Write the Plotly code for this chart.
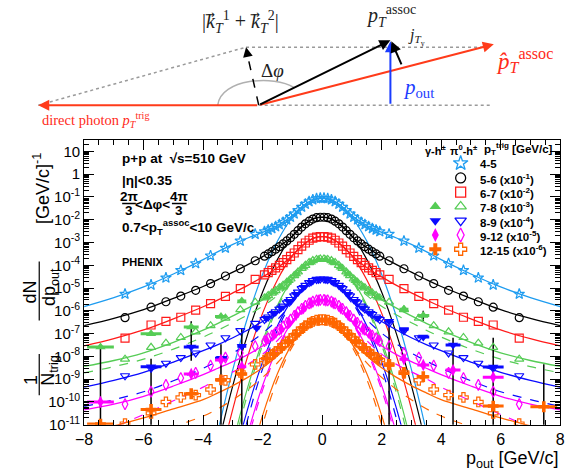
import plotly.graph_objects as go

# ---------------- data (log10 values) ----------------
# open (pi0-h) points: dense centre bins and tail bins (positive side, mirrored)
G = [0.0625, 0.1875, 0.3125, 0.4375, 0.5625, 0.6875, 0.8125, 0.9375,
     1.0625, 1.1875, 1.3125, 1.4375, 1.5625, 1.6875, 1.8125, 1.9375]
T = [2.25, 2.75, 3.25, 3.75, 4.25, 4.75, 5.25, 5.75, 6.625]

open_45 = [-1.05, -1.07, -1.12, -1.20, -1.31, -1.44, -1.59, -1.74, -1.88, -2.00, -2.11, -2.21, -2.30, -2.38, -2.45, -2.52,
           -2.63, -2.93, -3.24, -3.58, -3.92, -4.22, -4.55, -4.86, -5.26]
open_56 = [-1.89, -1.91, -1.97, -2.06, -2.18, -2.32, -2.48, -2.64, -2.79, -2.93, -3.06, -3.18, -3.29, -3.40, -3.50, -3.60,
           -3.80, -4.15, -4.47, -4.80, -5.10, -5.35, -5.60, -5.84, -6.30]
open_67 = [-2.74, -2.76, -2.81, -2.90, -3.02, -3.16, -3.31, -3.46, -3.61, -3.75, -3.88, -4.00, -4.11, -4.22, -4.32, -4.42,
           -4.62, -5.02, -5.36, -5.68, -5.97, -6.28, -6.46, -6.62, -7.20]
open_78 = [-3.72, -3.74, -3.79, -3.88, -4.00, -4.14, -4.29, -4.45, -4.60, -4.74, -4.87, -4.99, -5.11, -5.22, -5.33, -5.43,
           -5.62, -5.95, -6.32, -6.65, -6.92, -7.17, -7.42, -7.60, -8.12]
open_89 = [-4.60, -4.62, -4.67, -4.76, -4.88, -5.02, -5.18, -5.34, -5.50, -5.65, -5.79, -5.92, -6.04, -6.16, -6.27, -6.38,
           -6.55, -6.87, -7.18, -7.50, -7.85, -8.05, -8.30, -8.52, -8.85]
open_912 = [-5.52, -5.54, -5.59, -5.67, -5.78, -5.91, -6.06, -6.22, -6.38, -6.53, -6.68, -6.82, -6.96, -7.09, -7.21, -7.33,
            -7.55, -7.85, -8.05, -8.40, -8.72, -8.95, -9.25, -9.55, -10.10]
open_1215 = [-6.39, -6.41, -6.46, -6.54, -6.65, -6.78, -6.92, -7.07, -7.22, -7.37, -7.51, -7.65, -7.79, -7.92, -8.04, -8.16,
             -8.35, -8.70, -9.05, -9.45, -9.70, -9.80, -10.00, -10.50, -10.95]

# filled (gamma-h) points: centre bins (mirrored) and tail bins (signed x)
GG = [0.125, 0.375, 0.625, 0.875, 1.125, 1.375, 1.625, 1.875]
fill_c_78 = [-3.75, -3.86, -4.08, -4.38, -4.68, -4.95, -5.18, -5.40]
fill_c_89 = [-4.63, -4.74, -4.96, -5.27, -5.58, -5.86, -6.10, -6.32]
fill_c_912 = [-5.55, -5.66, -5.88, -6.18, -6.50, -6.80, -7.05, -7.28]
fill_c_1215 = [-6.42, -6.52, -6.74, -7.03, -7.33, -7.62, -7.88, -8.10]

TFX = [-7.45, -5.75, -4.4, -3.4, -2.7, -2.2, 2.25, 2.75, 3.4, 4.4, 5.75, 7.45]
TFXERR = [0.45, 0.35, 0.25, 0.2, 0.15, 0.1, 0.1, 0.15, 0.2, 0.25, 0.35, 0.45]
fill_t_78 = [-7.59, -7.01, -6.71, -6.25, -5.57, None, None, -5.93, -6.20, None, None, None]
fill_t_89 = [None, -8.45, -7.59, -8.08, -7.55, -6.75, -6.46, -6.82, -7.15, -7.50, -8.46, None]
fill_t_912 = [-10.0, None, -8.77, -8.16, -8.45, None, None, -8.12, -8.38, -8.60, -8.91, None]
fill_t_1215 = [-10.97, -10.33, -9.64, -9.03, -8.77, None, -8.38, -8.74, -8.89, None, -10.18, -10.21]

# black vertical uncertainty bars
VBAR_X = [-7.45, -5.75, -4.4, -3.4, -2.7, 2.25, 3.4, 4.4, 5.75, 7.45]
VBAR_TOP = [-7.6, -8.1, -6.46, -7.47, -6.75, -6.68, -6.0, -7.18, -7.18, -8.34]
VBAR_BOT = [-12, -12, -8.19, -12, -12, -12, -6.45, -12, -12, -12]

# full fits (positive side, mirrored)
FX = [0, 0.25, 0.5, 0.75, 1, 1.25, 1.5, 1.75, 2, 2.5, 3, 3.5, 4, 5, 6, 7, 8]
fit_45 = [-1.05, -1.09, -1.26, -1.51, -1.81, -2.05, -2.25, -2.41, -2.55, -2.80, -3.08, -3.40, -3.75, -4.38, -4.95, -5.42, -5.81]
fit_56 = [-1.89, -1.93, -2.12, -2.40, -2.72, -2.99, -3.22, -3.42, -3.62, -3.97, -4.30, -4.63, -4.93, -5.45, -5.95, -6.33, -6.65]
fit_67 = [-2.74, -2.78, -2.97, -3.25, -3.57, -3.86, -4.10, -4.32, -4.51, -4.88, -5.21, -5.52, -5.82, -6.35, -6.84, -7.22, -7.54]
fit_78 = [-3.72, -3.76, -3.95, -4.24, -4.57, -4.87, -5.12, -5.33, -5.52, -5.88, -6.22, -6.55, -6.85, -7.38, -7.84, -8.18, -8.44]
fit_89 = [-4.60, -4.64, -4.84, -5.14, -5.48, -5.79, -6.05, -6.27, -6.47, -6.84, -7.18, -7.48, -7.75, -8.25, -8.70, -9.05, -9.35]
fit_912 = [-5.52, -5.56, -5.76, -6.07, -6.43, -6.77, -7.06, -7.32, -7.54, -7.92, -8.23, -8.52, -8.80, -9.30, -9.75, -10.10, -10.35]
fit_1215 = [-6.39, -6.43, -6.62, -6.93, -7.30, -7.65, -7.97, -8.25, -8.50, -8.92, -9.28, -9.60, -9.90, -10.30, -10.70, -11.05, -11.40]
dfit_78 = [-3.74, -3.79, -4.00, -4.32, -4.68, -5.02, -5.32, -5.58, -5.80, -6.18, -6.52, -6.85, -7.15, -7.68, -8.12, -8.45, -8.72]
dfit_89 = [-4.62, -4.67, -4.90, -5.25, -5.65, -6.03, -6.38, -6.70, -6.98, -7.45, -7.85, -8.20, -8.52, -9.07, -9.55, -9.90, -10.20]
dfit_912 = [-5.55, -5.60, -5.82, -6.16, -6.56, -6.95, -7.30, -7.62, -7.90, -8.35, -8.68, -8.98, -9.35, -9.95, -10.55, -11.10, -11.60]
dfit_1215 = [-6.42, -6.47, -6.70, -7.05, -7.48, -7.90, -8.28, -8.62, -8.92, -9.45, -9.90, -10.30, -10.62, -11.10, -11.60, -12.0, -12.4]

# gaussian components (positive side, mirrored)
GX = [0, 0.5, 1, 1.5, 2, 2.5, 3, 3.5, 4]
gau_45 = [-1.05, -1.26, -1.89, -2.93, -4.39, -6.27, -8.57, -11.29, -14.4]
gau_56 = [-1.89, -2.10, -2.71, -3.74, -5.17, -7.02, -9.27, -11.94, -15.0]
gau_67 = [-2.74, -2.95, -3.58, -4.63, -6.10, -7.99, -10.30, -13.03, -16.2]
gau_78 = [-3.72, -3.95, -4.62, -5.75, -7.32, -9.35, -11.82, -14.7, -18.1]
gau_89 = [-4.60, -4.83, -5.51, -6.65, -8.24, -10.29, -12.79, -15.7, -19.2]
gau_912 = [-5.52, -5.76, -6.46, -7.64, -9.28, -11.40, -13.98, -17.0, -20.6]
gau_1215 = [-6.39, -6.65, -7.44, -8.75, -10.59, -12.95, -15.8, -19.2, -23.2]
dgau_78 = [-3.74, -3.98, -4.68, -5.86, -7.50, -9.62, -12.2, -15.3, -18.8]
dgau_89 = [-4.62, -4.87, -5.60, -6.83, -8.54, -10.75, -13.44, -16.6, -20.3]
dgau_912 = [-5.55, -5.80, -6.53, -7.76, -9.47, -11.68, -14.4, -17.6, -21.2]
dgau_1215 = [-6.42, -6.71, -7.57, -9.00, -11.00, -13.60, -16.7, -20.4, -24.7]

LABELS = ["4-5", "5-6 (x10<sup>-1</sup>)", "6-7 (x10<sup>-2</sup>)", "7-8 (x10<sup>-3</sup>)",
          "8-9 (x10<sup>-4</sup>)", "9-12 (x10<sup>-5</sup>)", "12-15 (x10<sup>-6</sup>)"]
COLORS = ["#1e9cf0", "#000000", "#ff1a1a", "#55cc55", "#0a0aff", "#ff00ff", "#ff6600"]
OPEN_SYM = ["star-open", "circle-open", "square-open", "triangle-up-open",
            "triangle-down-open", "diamond-tall-open", "cross-open"]
FILL_SYM = [None, None, None, "triangle-up", "triangle-down", "diamond-tall", "cross"]

OPEN = [open_45, open_56, open_67, open_78, open_89, open_912, open_1215]
FITS = [fit_45, fit_56, fit_67, fit_78, fit_89, fit_912, fit_1215]
GAUS = [gau_45, gau_56, gau_67, gau_78, gau_89, gau_912, gau_1215]
DFITS = [None, None, None, dfit_78, dfit_89, dfit_912, dfit_1215]
DGAUS = [None, None, None, dgau_78, dgau_89, dgau_912, dgau_1215]
FILL_C = [None, None, None, fill_c_78, fill_c_89, fill_c_912, fill_c_1215]
FILL_T = [None, None, None, fill_t_78, fill_t_89, fill_t_912, fill_t_1215]

# ---------------- helpers ----------------
def p10(v):
    return [None if a is None else 10.0 ** a for a in v]

def mirror_pts(xs, vs):
    return [-a for a in reversed(xs)] + list(xs), list(reversed(vs)) + list(vs)

def mirror_curve(xs, vs):
    return [-a for a in reversed(xs[1:])] + list(xs), list(reversed(vs[1:])) + list(vs)

SANS = "Liberation Sans, Arial, sans-serif"
SERIF = "Liberation Serif, DejaVu Serif, serif"

fig = go.Figure()

# curves
for i in range(7):
    c = COLORS[i]
    x, y = mirror_curve(GX, GAUS[i])
    fig.add_trace(go.Scatter(x=x, y=p10(y), mode="lines", line=dict(color=c, width=1.2, shape="spline"),
                             showlegend=False, hoverinfo="skip"))
    x, y = mirror_curve(FX, FITS[i])
    fig.add_trace(go.Scatter(x=x, y=p10(y), mode="lines", line=dict(color=c, width=1.3, shape="spline"),
                             showlegend=False, hoverinfo="skip"))
    if DFITS[i] is not None:
        x, y = mirror_curve(GX, DGAUS[i])
        fig.add_trace(go.Scatter(x=x, y=p10(y), mode="lines",
                                 line=dict(color=c, width=1.2, dash="dash", shape="spline"),
                                 showlegend=False, hoverinfo="skip"))
        x, y = mirror_curve(FX, DFITS[i])
        fig.add_trace(go.Scatter(x=x, y=p10(y), mode="lines",
                                 line=dict(color=c, width=1.2, dash="dash", shape="spline"),
                                 showlegend=False, hoverinfo="skip"))

# black vertical bars
vx, vy = [], []
for x0, t0, b0 in zip(VBAR_X, VBAR_TOP, VBAR_BOT):
    vx += [x0, x0, None]
    vy += [10.0 ** t0, 10.0 ** b0, None]
fig.add_trace(go.Scatter(x=vx, y=vy, mode="lines", line=dict(color="black", width=1.5),
                         showlegend=False, hoverinfo="skip"))

# open points
xs_all = G + T
for i in range(7):
    x, y = mirror_pts(xs_all, OPEN[i])
    fig.add_trace(go.Scatter(x=x, y=p10(y), mode="markers",
                             marker=dict(symbol=OPEN_SYM[i], size=8, color=COLORS[i],
                                         line=dict(color=COLORS[i], width=1.2)),
                             showlegend=False))

# filled points
for i in range(3, 7):
    x, y = mirror_pts(GG, FILL_C[i])
    fig.add_trace(go.Scatter(x=x, y=p10(y), mode="markers",
                             marker=dict(symbol=FILL_SYM[i], size=9, color=COLORS[i]),
                             showlegend=False))
    fig.add_trace(go.Scatter(x=TFX, y=p10(FILL_T[i]), mode="markers",
                             marker=dict(symbol=FILL_SYM[i], size=9, color=COLORS[i]),
                             error_x=dict(type="data", array=TFXERR, color=COLORS[i], thickness=3, width=0),
                             showlegend=False))

# ---------------- legend (overlay axes in page pixels) ----------------
LEG_Y = [166, 181, 195.5, 210, 224.5, 239, 253.5]
LEG_X_FILL, LEG_X_OPEN, LEG_X_TEXT = 437, 463, 481
for i in range(7):
    fig.add_trace(go.Scatter(x=[LEG_X_OPEN], y=[LEG_Y[i]], mode="markers", xaxis="x3", yaxis="y3",
                             marker=dict(symbol=OPEN_SYM[i], size=11 if i == 0 else 10, color=COLORS[i],
                                         line=dict(color=COLORS[i], width=1.3)),
                             showlegend=False, hoverinfo="skip"))
    if FILL_SYM[i] is not None:
        fig.add_trace(go.Scatter(x=[LEG_X_FILL], y=[LEG_Y[i]], mode="markers", xaxis="x3", yaxis="y3",
                                 marker=dict(symbol=FILL_SYM[i], size=10, color=COLORS[i]),
                                 showlegend=False, hoverinfo="skip"))

ann = []
for i in range(7):
    ann.append(dict(x=LEG_X_TEXT, y=LEG_Y[i] + 1, xref="x3", yref="y3", text="<b>" + LABELS[i] + "</b>",
                    showarrow=False, xanchor="left", yanchor="middle",
                    font=dict(family=SANS, size=11.5, color="black")))
ann += [
    dict(x=438, y=153, xref="x3", yref="y3", text="<b>γ-h<sup>±</sup></b>", showarrow=False,
         font=dict(family=SANS, size=11, color="black")),
    dict(x=466, y=153, xref="x3", yref="y3", text="<b>π<sup>0</sup>-h<sup>±</sup></b>", showarrow=False,
         font=dict(family=SANS, size=11, color="black")),
    dict(x=485, y=152, xref="x3", yref="y3", text="<b>p<sub>T</sub><sup>trig</sup> [GeV/c]</b>",
         showarrow=False, xanchor="left", font=dict(family=SANS, size=11.5, color="black")),
]

# in-plot texts
ann += [
    dict(x=114, y=161, xref="x3", yref="y3", text="<b>p+p at  √s=510 GeV</b>", showarrow=False,
         xanchor="left", font=dict(family=SANS, size=13.5, color="black")),
    dict(x=114, y=184, xref="x3", yref="y3", text="<b>|η|<0.35</b>", showarrow=False,
         xanchor="left", font=dict(family=SANS, size=13.5, color="black")),
    dict(x=123, y=200, xref="x3", yref="y3", text="<b>2π</b>", showarrow=False,
         font=dict(family=SANS, size=13.5, color="black")),
    dict(x=123, y=214, xref="x3", yref="y3", text="<b>3</b>", showarrow=False,
         font=dict(family=SANS, size=13.5, color="black")),
    dict(x=147, y=208, xref="x3", yref="y3", text="<b><Δφ<</b>", showarrow=False,
         font=dict(family=SANS, size=13.5, color="black")),
    dict(x=174, y=200, xref="x3", yref="y3", text="<b>4π</b>", showarrow=False,
         font=dict(family=SANS, size=13.5, color="black")),
    dict(x=174, y=214, xref="x3", yref="y3", text="<b>3</b>", showarrow=False,
         font=dict(family=SANS, size=13.5, color="black")),
    dict(x=114, y=231, xref="x3", yref="y3", text="<b>0.7<p<sub>T</sub><sup>assoc</sup><10 GeV/c</b>",
         showarrow=False, xanchor="left", font=dict(family=SANS, size=13.5, color="black")),
    dict(x=114, y=266, xref="x3", yref="y3", text="<b>PHENIX</b>", showarrow=False,
         xanchor="left", font=dict(family=SANS, size=11, color="black")),
]

# axis titles
ann += [
    dict(x=566, y=467, xref="x3", yref="y3", text="p<sub>out</sub> [GeV/c]", showarrow=False,
         xanchor="right", font=dict(family=SANS, size=18, color="black")),
    dict(x=22, y=386, xref="x3", yref="y3", text="1", showarrow=False, textangle=-90,
         font=dict(family=SANS, size=18, color="black")),
    dict(x=42, y=376, xref="x3", yref="y3", text="N<sub>trig</sub>", showarrow=False, textangle=-90,
         font=dict(family=SANS, size=18, color="black")),
    dict(x=22, y=297, xref="x3", yref="y3", text="dN", showarrow=False, textangle=-90,
         font=dict(family=SANS, size=18, color="black")),
    dict(x=42, y=292, xref="x3", yref="y3", text="dp<sub>out</sub>", showarrow=False, textangle=-90,
         font=dict(family=SANS, size=18, color="black")),
    dict(x=34, y=192, xref="x3", yref="y3", text="[GeV/c]<sup>-1</sup>", showarrow=False, textangle=-90,
         font=dict(family=SANS, size=18, color="black")),
]

shapes = [
    dict(type="line", xref="x3", yref="y3", x0=116, x1=130, y0=207, y1=207, line=dict(color="black", width=1.5)),
    dict(type="line", xref="x3", yref="y3", x0=167, x1=182, y0=207, y1=207, line=dict(color="black", width=1.5)),
    dict(type="line", xref="x3", yref="y3", x0=31, x1=31, y0=360, y1=402, line=dict(color="black", width=1.2)),
    dict(type="line", xref="x3", yref="y3", x0=31, x1=31, y0=266, y1=326, line=dict(color="black", width=1.2)),
]

# ---------------- kinematics diagram (page pixel coordinates) ----------------
ORIGIN = (256, 107)
TRIG_TIP = (30, 107)
HAT_TIP = (497, 45)
ASSOC_TIP = (391, 41)
POUT_BASE = (391, 107)
POUT_TIP = (391, 42)
JT_BASE = (403, 67)
KT_TIP = (243, 48)
DOT_RIGHT = 493

gray = "#9a9a9a"
shapes += [
    dict(type="line", xref="x2", yref="y2", x0=TRIG_TIP[0], y0=TRIG_TIP[1], x1=KT_TIP[0], y1=KT_TIP[1],
         line=dict(color=gray, width=1.5, dash="dot")),
    dict(type="line", xref="x2", yref="y2", x0=KT_TIP[0], y0=KT_TIP[1], x1=DOT_RIGHT, y1=KT_TIP[1],
         line=dict(color=gray, width=1.5, dash="dot")),
    dict(type="line", xref="x2", yref="y2", x0=ORIGIN[0], y0=ORIGIN[1], x1=DOT_RIGHT, y1=ORIGIN[1],
         line=dict(color=gray, width=1.5, dash="dot")),
    dict(type="path", xref="x2", yref="y2", path="M 214 107 C 217 80, 272 76, 292 89",
         line=dict(color="#b0b0b0", width=1.5)),
    dict(type="line", xref="x2", yref="y2", x0=ORIGIN[0], y0=ORIGIN[1], x1=KT_TIP[0] + 1, y1=KT_TIP[1] + 6,
         line=dict(color="black", width=1.5, dash="dash")),
]

def arrow(tail, head, color, width=2, size=1.0):
    return dict(x=head[0], y=head[1], ax=tail[0], ay=tail[1], xref="x2", yref="y2", axref="x2", ayref="y2",
                text="", showarrow=True, arrowhead=2, arrowsize=size, arrowwidth=width, arrowcolor=color,
                standoff=0)

ann += [
    arrow(ORIGIN, TRIG_TIP, "#ff3b1a", 2, 1.1),
    arrow(ORIGIN, HAT_TIP, "#ff3b1a", 2, 1.1),
    arrow(ORIGIN, ASSOC_TIP, "black", 2, 1.1),
    arrow(POUT_BASE, POUT_TIP, "#1a3cff", 2, 1.1),
    arrow(JT_BASE, (ASSOC_TIP[0] + 1, ASSOC_TIP[1] + 1), "black", 2, 1.1),
    arrow((KT_TIP[0] + 2, KT_TIP[1] + 10), KT_TIP, "black", 1.5, 1.3),
    dict(x=237, y=22, xref="x2", yref="y2", showarrow=False,
         text="|<i>k</i>\u20d7<sub><i>T</i></sub><sup>1</sup> + <i>k</i>\u20d7<sub><i>T</i></sub><sup>2</sup>|",
         font=dict(family=SERIF, size=20, color="#222")),
    dict(x=392, y=16, xref="x2", yref="y2", showarrow=False,
         text="<i>p</i><sub><i>T</i></sub><sup>assoc</sup>", font=dict(family=SERIF, size=20, color="#222")),
    dict(x=418, y=38, xref="x2", yref="y2", showarrow=False,
         text="<i>j</i><sub><i>T</i><sub>y</sub></sub>", font=dict(family=SERIF, size=16, color="#222")),
    dict(x=270, y=72, xref="x2", yref="y2", showarrow=False,
         text="Δ<i>φ</i>", font=dict(family=SERIF, size=19, color="#222")),
    dict(x=420, y=90, xref="x2", yref="y2", showarrow=False,
         text="<i>p</i><sub>out</sub>", font=dict(family=SERIF, size=21, color="#1a3cff")),
    dict(x=528, y=62, xref="x2", yref="y2", showarrow=False,
         text="<i>p\u0302</i><sub><i>T</i></sub><sup>assoc</sup>", font=dict(family=SERIF, size=23, color="#ff2a1a")),
    dict(x=32, y=122, xref="x2", yref="y2", showarrow=False, xanchor="left",
         text="direct photon <i>p</i><sub><i>T</i></sub><sup>trig</sup>",
         font=dict(family=SERIF, size=14.5, color="#ff2a1a")),
]

# ---------------- axes ----------------
ytv = [10.0 ** k for k in range(-11, 2)]
ytt = ["10<sup>%d</sup>" % k for k in range(-11, 0)] + ["1", "10"]
minor_y = [m * 10.0 ** k for k in range(-11, 2) for m in range(2, 10)]

fig.update_layout(
    width=571, height=475, margin=dict(l=0, r=0, t=0, b=0),
    paper_bgcolor="white", plot_bgcolor="rgba(0,0,0,0)",
    showlegend=False,
    xaxis=dict(domain=[77 / 571, 565 / 571], range=[-8, 8], anchor="y",
               tickmode="array", tickvals=list(range(-8, 9, 2)), ticks="inside", ticklen=10,
               tickcolor="black", minor=dict(ticks="inside", ticklen=5, dtick=0.5, tickcolor="black"),
               showline=True, linecolor="black", linewidth=1, mirror="ticks",
               showgrid=False, zeroline=False, tickfont=dict(family=SANS, size=16, color="black")),
    yaxis=dict(domain=[43 / 475, 333 / 475], type="log", range=[-11, 1.52], anchor="x",
               tickmode="array", tickvals=ytv, ticktext=ytt, ticks="inside", ticklen=10, tickcolor="black",
               minor=dict(ticks="inside", ticklen=5, tickmode="array", tickvals=minor_y, tickcolor="black"),
               showline=True, linecolor="black", linewidth=1, mirror="ticks",
               showgrid=False, zeroline=False, tickfont=dict(family=SANS, size=15, color="black")),
    xaxis2=dict(domain=[0, 1], range=[0, 571], anchor="y2", visible=False, fixedrange=True),
    yaxis2=dict(domain=[345 / 475, 1], range=[130, 0], anchor="x2", visible=False, fixedrange=True),
    xaxis3=dict(domain=[0, 1], range=[0, 571], anchor="y3", visible=False, fixedrange=True),
    yaxis3=dict(domain=[0, 1], range=[475, 0], anchor="x3", visible=False, fixedrange=True),
    annotations=ann, shapes=shapes,
)

fig.write_html("out.html")
